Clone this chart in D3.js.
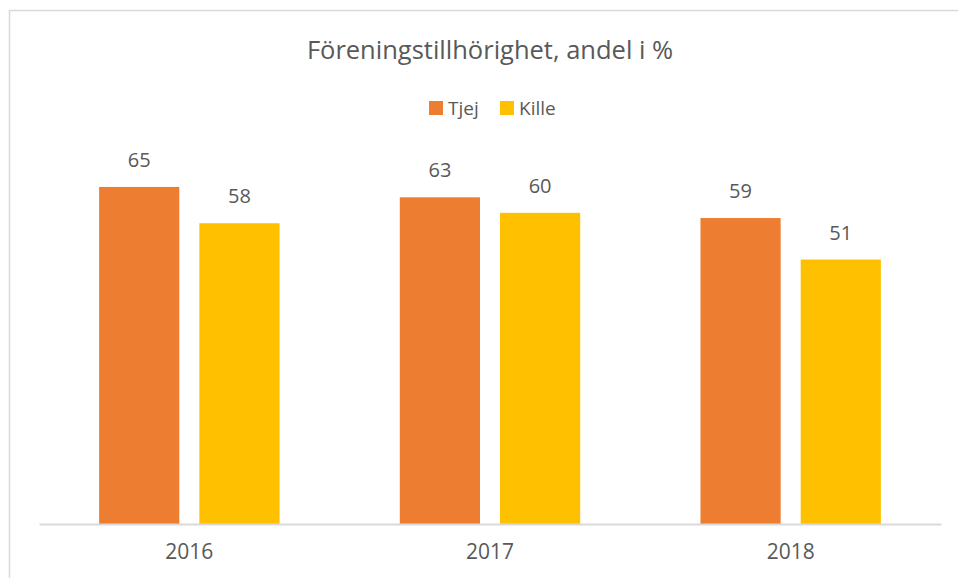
<!DOCTYPE html>
<html>
<head>
<meta charset="utf-8">
<script src="https://cdn.jsdelivr.net/npm/d3@7"></script>
<style>
  body { margin: 0; background: #fff; }
  text { font-family: "Open Sans", sans-serif; fill: #595959; }
</style>
</head>
<body>
<svg id="chart" width="958" height="578"></svg>
<script>
// data
var years = ["2016", "2017", "2018"];
var series = ["Tjej", "Kille"];
var tjej = [65, 63, 59];
var kille = [58, 60, 51];
var colors = ["#ED7D31", "#FFC000"];
var title = "Föreningstillhörighet, andel i %";

var svg = d3.select("#chart");

// chart frame
svg.append("rect")
    .attr("x", 9.5)
    .attr("y", 10.5)
    .attr("width", 970)
    .attr("height", 600)
    .attr("fill", "#fff")
    .attr("stroke", "#D9D9D9")
    .attr("stroke-width", 1.5);

var rows = years.map(function(y, i) { return { year: y, Tjej: tjej[i], Kille: kille[i] }; });

// scales
var x0 = d3.scaleBand()
    .domain(years)
    .range([39, 941])
    .paddingInner(0.4)
    .paddingOuter(0.2);

var x1 = d3.scaleBand()
    .domain(series)
    .range([0, x0.bandwidth()])
    .paddingInner(0.2);

var y = d3.scaleLinear()
    .domain([0, 70])
    .range([524, 161]);

var color = d3.scaleOrdinal().domain(series).range(colors);

// bars
var groups = svg.append("g")
    .selectAll("g")
    .data(rows)
    .enter().append("g")
    .attr("transform", function(d) { return "translate(" + x0(d.year) + ",0)"; });

groups.selectAll("rect")
    .data(function(d) { return series.map(function(k) { return { key: k, value: d[k] }; }); })
    .enter().append("rect")
    .attr("x", function(d) { return x1(d.key); })
    .attr("y", function(d) { return y(d.value); })
    .attr("width", x1.bandwidth())
    .attr("height", function(d) { return y(0) - y(d.value); })
    .attr("fill", function(d) { return color(d.key); });

// value labels
groups.selectAll("text")
    .data(function(d) { return series.map(function(k) { return { key: k, value: d[k] }; }); })
    .enter().append("text")
    .attr("x", function(d) { return x1(d.key) + x1.bandwidth() / 2; })
    .attr("y", function(d) { return y(d.value) - 20; })
    .attr("text-anchor", "middle")
    .style("font-size", "20px")
    .text(function(d) { return d.value; });

// x axis
var xAxis = svg.append("g")
    .attr("transform", "translate(0," + y(0) + ")")
    .call(d3.axisBottom(x0).tickSize(0).tickSizeOuter(0).tickPadding(20));
xAxis.select(".domain").attr("stroke", "#D9D9D9").attr("stroke-width", 2);
xAxis.selectAll("text")
    .style("font-size", "21px")
    .style("font-family", "'Open Sans', sans-serif")
    .attr("fill", "#595959");

// title
svg.append("text")
    .attr("x", 490)
    .attr("y", 59)
    .attr("text-anchor", "middle")
    .style("font-size", "25.5px")
    .text(title);

// legend
var legend = svg.append("g");
var legendX = [429, 500];
series.forEach(function(s, i) {
    legend.append("rect")
        .attr("x", legendX[i])
        .attr("y", 101)
        .attr("width", 14)
        .attr("height", 14)
        .attr("fill", color(s));
    legend.append("text")
        .attr("x", legendX[i] + 19)
        .attr("y", 115)
        .style("font-size", "19px")
        .text(s);
});
</script>
</body>
</html>
